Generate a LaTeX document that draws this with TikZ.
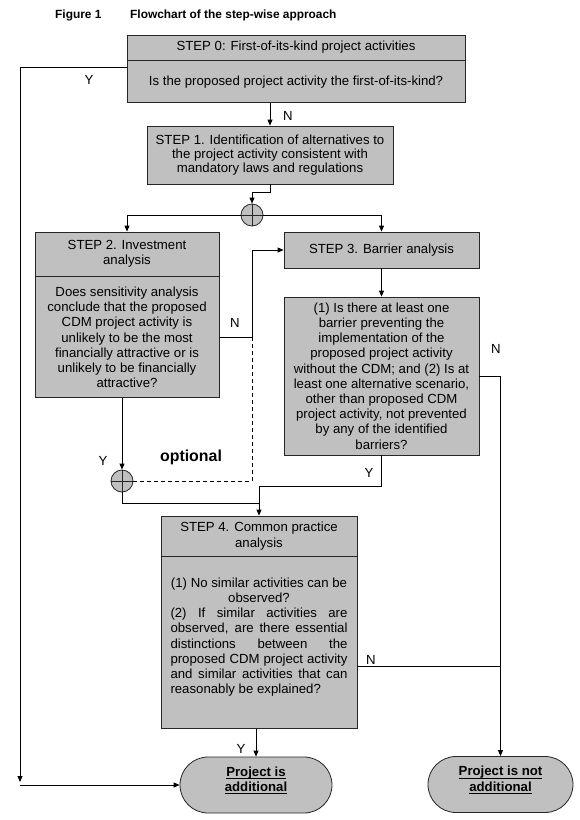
\documentclass[tikz,border=0pt]{standalone}
\usepackage{fontspec}
\setmainfont{Liberation Sans}
\usetikzlibrary{arrows.meta,shapes.misc}
\definecolor{boxgray}{HTML}{C0C0C0}
\newcommand\bodyfnt{\fontsize{13.2}{15.2}\selectfont}
\newcommand\ulx[1]{$\underline{\smash{\hbox{#1}}\rule[-0.6pt]{0pt}{1pt}}$}
\begin{document}
\begin{tikzpicture}[x=1pt,y=-1pt,
  box/.style={draw=black!85, fill=boxgray, line width=0.8pt, inner sep=0pt, align=center, font=\bodyfnt},
  term/.style={rounded rectangle, draw=black!85, fill=boxgray, line width=0.8pt, inner sep=0pt, align=center, font=\bodyfnt\bfseries, minimum height=56pt},
  xcirc/.style={circle, draw=black!85, fill=boxgray, line width=0.8pt, minimum size=22pt, inner sep=0pt,
    path picture={\draw[line width=0.8pt] (path picture bounding box.north) -- (path picture bounding box.south)
      (path picture bounding box.west) -- (path picture bounding box.east);}},
  conn/.style={line width=0.8pt},
  arr/.style={conn, -{Triangle[length=6pt,width=5pt]}},
  lbl/.style={font=\bodyfnt, inner sep=0pt},
  ]
\fill[white] (0,0) rectangle (580,820);
\useasboundingbox (0,0) rectangle (580,820);

% title
\node[anchor=west, font=\bfseries\fontsize{11.9}{14}\selectfont, inner sep=0pt] (fig) at (55,15) {Figure 1};
\node[anchor=west, font=\bfseries\fontsize{11.9}{14}\selectfont, inner sep=0pt] (ttl) at (130,15) {Flowchart of the step-wise approach};

% step 0
\node[box, minimum width=338pt, minimum height=25pt] (s0t) at (296,47.5) {STEP 0: First-of-its-kind project activities};
\node[box, minimum width=338pt, minimum height=42pt, anchor=north] (s0q) at (s0t.south) {Is the proposed project activity the first-of-its-kind?};

% step 1
\node[box, minimum width=246pt, minimum height=58pt, font=\fontsize{13.2}{14.2}\selectfont] (s1) at (270,155) {STEP 1. Identification of alternatives to\\the project activity consistent with\\mandatory laws and regulations};

% circle 1
\node[xcirc] (c1) at (252,215) {};

% step 2
\node[box, minimum width=184pt, minimum height=44pt] (s2t) at (127,254) {STEP 2. Investment\\analysis};
\node[box, minimum width=184pt, minimum height=121pt, anchor=north] (s2q) at (s2t.south) {Does sensitivity analysis\\conclude that the proposed\\CDM project activity is\\unlikely to be the most\\financially attractive or is\\unlikely to be financially\\attractive?};

% step 3
\node[box, minimum width=195pt, minimum height=36pt] (s3t) at (381.5,250) {STEP 3. Barrier analysis};
\node[box, minimum width=195pt, minimum height=158pt] (s3q) at (381.5,376) {(1) Is there at least one\\barrier preventing the\\implementation of the\\proposed project activity\\without the CDM; and (2) Is at\\least one alternative scenario,\\other than proposed CDM\\project activity, not prevented\\by any of the identified\\barriers?};

% circle 2
\node[xcirc] (c2) at (122,481) {};
\node[font=\bfseries\fontsize{15.9}{18}\selectfont, inner sep=0pt] (opt) at (191,457) {optional};

% step 4
\node[box, minimum width=196pt, minimum height=40pt] (s4t) at (259,536) {STEP 4. Common practice\\analysis};
\node[box, minimum width=196pt, minimum height=172pt, anchor=north, align=left] (s4q) at (s4t.south) {\parbox[c][172pt][t]{177pt}{\bodyfnt\vspace*{21pt}{\centering (1) No similar activities can be\\ observed?\par}
(2) If similar activities are\linebreak observed, are there essential\linebreak distinctions between the\linebreak proposed CDM project activity\linebreak and similar activities that can\linebreak reasonably be explained?}};

% terminals
\node[term, minimum width=152pt] (t1) at (256,785) {\ulx{Project is}\\\ulx{additional}};
\node[term, minimum width=145pt] (t2) at (500.5,784.5) {\ulx{Project is not}\\\ulx{additional}};

% helper coordinates
\coordinate (nx) at (252,300);
\coordinate (ld) at (20,782);
\coordinate (lb) at (20,785);
\coordinate (j4) at (259,503);

% connectors
\draw[arr] ([yshift=14pt]s0q.west) -| (ld);
\draw[arr] (lb) -- (t1.west);
\draw[arr] (s0q.south -| s1.north) -- (s1.north);
\draw[arr] (s1.south) -- ++(0,8) -| (c1.north);
\draw[arr] (c1.west) -| (s2t.north);
\draw[arr] (c1.east) -| (s3t.north);
\draw[conn, dashed, dash pattern=on 4pt off 3pt] (c2.east) -- (c2.east -| nx) -- (s2q.east -| nx);
\draw[arr] (s2q.east) -- (s2q.east -| nx) |- (s3t.west);
\draw[arr] (s3t.south) -- (s3q.north);
\draw[arr] (c2.north |- s2q.south) -- (c2.north);
\draw[arr] (s3q.south) -- ++(0,31) -| (s4t.north);
\draw[conn] (c2.south) |- (j4);
\draw[arr] (s3q.east) -| (t2.north);
\draw[conn] ([yshift=-24pt]s4q.east) -- ([yshift=-24pt]s4q.east -| t2.north);
\draw[arr] (t1.north |- s4q.south) -- (t1.north);

% labels
\node[lbl] (y0) at (89,80) {Y};
\node[lbl] (n0) at (288,116) {N};
\node[lbl] (n2) at (235,323) {N};
\node[lbl] (n3) at (496,349) {N};
\node[lbl] (y2) at (103,461) {Y};
\node[lbl] (y3) at (369,473) {Y};
\node[lbl] (n4) at (371,660) {N};
\node[lbl] (y4) at (241,749) {Y};
\end{tikzpicture}
\end{document}
